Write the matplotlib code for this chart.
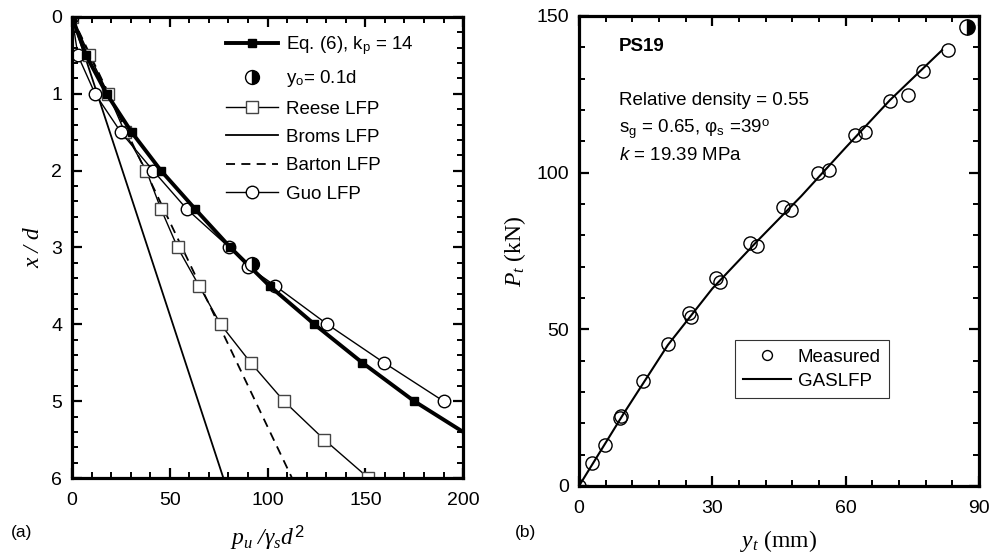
import matplotlib
matplotlib.use("Agg")
import matplotlib.pyplot as plt
from matplotlib.ticker import MultipleLocator

plt.rcParams['font.family'] = ['Liberation Sans', 'DejaVu Sans']
plt.rcParams['mathtext.fontset'] = 'custom'
plt.rcParams['mathtext.rm'] = 'Liberation Sans'
plt.rcParams['mathtext.it'] = 'Liberation Serif:italic'
plt.rcParams['mathtext.bf'] = 'Liberation Sans:bold'
plt.rcParams['mathtext.sf'] = 'Liberation Sans:italic'

# ---------------- data: panel (a) ----------------
eq6_depth = [0, 0.5, 1.0, 1.5, 2.0, 2.5, 3.0, 3.5, 4.0, 4.5, 5.0, 5.4]
eq6_p = [0, 7.2, 17.7, 30.5, 45.5, 63, 81, 101, 124, 148.5, 175, 200]

y0_depth = [3.22]
y0_p = [92]

reese_depth = [0, 0.5, 1.0, 1.5, 2.0, 2.5, 3.0, 3.5, 4.0, 4.5, 5.0, 5.5, 6.0]
reese_p = [0, 8.9, 18.5, 27, 38, 45.5, 54, 65, 76, 91.4, 108.4, 129, 151.6]

broms_depth = [0, 6.0]
broms_p = [0, 77.4]

barton_depth = [0, 6.0]
barton_p = [0, 112.5]

guo_depth = [0, 0.5, 1.0, 1.5, 2.0, 2.5, 3.0, 3.25, 3.5, 4.0, 4.5, 5.0]
guo_p = [0, 3, 11.8, 25, 41.5, 58.7, 80.5, 90, 104, 130.6, 159.6, 190]

# ---------------- data: panel (b) ----------------
meas_y = [0, 2.85, 5.8, 9.2, 9.5, 14.4, 20.0, 24.7, 25.3, 30.8, 31.8,
          38.5, 40.0, 45.9, 47.7, 53.7, 56.2, 62.2, 64.4, 70.0, 74.0, 77.5, 83.0]
meas_P = [0, 7.2, 13.1, 21.6, 22.4, 33.6, 45.3, 55.1, 53.8, 66.3, 65.1,
          77.6, 76.6, 88.9, 88.1, 99.8, 100.8, 112.0, 113.1, 122.9, 124.8, 132.4, 139.1]

gas_y = [0, 10, 20, 30, 40, 50, 60, 70, 81.7]
gas_P = [0, 23, 45, 63, 78, 92.5, 108, 123.2, 139.1]

yo_pt_y = [87.4]
yo_pt_P = [146.4]

# ---------------- figure ----------------
fig = plt.figure(figsize=(9.95, 5.59), dpi=100)
axa = fig.add_axes([0.0724, 0.1449, 0.3930, 0.8247])
axb = fig.add_axes([0.5819, 0.1306, 0.4020, 0.8408])

TICK_FS = 14

def style_axes(ax):
    for s in ax.spines.values():
        s.set_linewidth(2.3)
    ax.tick_params(which='both', direction='in', top=True, right=True,
                   labelsize=TICK_FS)
    ax.tick_params(axis='x', which='both', pad=10)
    ax.tick_params(axis='y', which='both', pad=7)
    ax.tick_params(which='major', length=7, width=1.6)
    ax.tick_params(which='minor', length=4, width=1.4)

# panel (a)
axa.plot(broms_p, broms_depth, color='black', lw=1.3, label='Broms LFP')
axa.plot(barton_p, barton_depth, color='black', lw=1.3, dashes=(5, 3.5),
         label='Barton LFP')
axa.plot(reese_p, reese_depth, color='black', lw=1.0, marker='s', ms=8,
         mfc='white', mec='#444444', mew=1.0, label='Reese LFP')
axa.plot(guo_p, guo_depth, color='black', lw=1.0, marker='o', ms=9,
         mfc='white', mec='black', mew=1.0, label='Guo LFP')
axa.plot(eq6_p, eq6_depth, color='black', lw=2.8, marker='s', ms=5.5,
         mfc='black', mec='black', markevery=list(range(len(eq6_p) - 1)),
         label=r'Eq. (6), k$_\mathrm{p}$ = 14')
axa.plot(y0_p, y0_depth, ls='none', marker='o', ms=10, fillstyle='right',
         mfc='black', markerfacecoloralt='white', mec='black', mew=1.0,
         label=r'y$_\mathrm{o}$= 0.1d')

axa.set_xlim(0, 200)
axa.set_ylim(6, 0)
axa.xaxis.set_major_locator(MultipleLocator(50))
axa.xaxis.set_minor_locator(MultipleLocator(10))
axa.yaxis.set_major_locator(MultipleLocator(1))
axa.yaxis.set_minor_locator(MultipleLocator(0.2))
style_axes(axa)

h, l = axa.get_legend_handles_labels()
order = [4, 5, 2, 0, 1, 3]
axa.legend([h[i] for i in order], [l[i] for i in order], loc='upper left',
           bbox_to_anchor=(0.395, 0.963), frameon=False, fontsize=13.5,
           handlelength=2.75, handletextpad=0.4, labelspacing=0.6,
           borderpad=0, borderaxespad=0)

axa.set_ylabel('x / d', fontfamily='Liberation Serif', style='italic',
               fontsize=17, labelpad=5)
axa.set_xlabel(r'$p_u$ /$\gamma_s d^2$', fontfamily='Liberation Serif',
               style='italic', fontsize=17, labelpad=10)

# panel (b)
axb.plot(meas_y, meas_P, ls='none', marker='o', ms=9.5, mfc='none',
         mec='black', mew=1.0, label='Measured')
axb.plot(gas_y, gas_P, color='black', lw=1.5, label='GASLFP')
axb.plot(yo_pt_y, yo_pt_P, ls='none', marker='o', ms=11, fillstyle='right',
         mfc='black', markerfacecoloralt='white', mec='black', mew=1.0,
         clip_on=False)
axb.set_xlim(0, 90)
axb.set_ylim(0, 150)
axb.xaxis.set_major_locator(MultipleLocator(30))
axb.xaxis.set_minor_locator(MultipleLocator(6))
axb.yaxis.set_major_locator(MultipleLocator(50))
axb.yaxis.set_minor_locator(MultipleLocator(10))
style_axes(axb)

leg = axb.legend(loc='lower left', bbox_to_anchor=(0.39, 0.187), fontsize=13.5,
                 frameon=True, fancybox=False, edgecolor='black',
                 handlelength=2.55, handletextpad=0.35, labelspacing=0.35,
                 borderpad=0.45, borderaxespad=0, markerscale=0.75)
leg.get_frame().set_linewidth(0.8)

axb.set_ylabel(r'$P_t$ (kN)', fontfamily='Liberation Serif', fontsize=17,
               labelpad=6)
axb.set_xlabel(r'$y_t$ (mm)', fontfamily='Liberation Serif', fontsize=17,
               labelpad=8)

axb.text(0.1, 0.935, 'PS19', transform=axb.transAxes, fontsize=13.5,
         fontweight='bold', va='center', ha='left')
axb.text(0.1, 0.821, 'Relative density = 0.55', transform=axb.transAxes,
         fontsize=13.5, va='center', ha='left')
axb.text(0.1, 0.758, r's$_\mathrm{g}$ = 0.65, φ$_\mathrm{s}$ =39$^\mathrm{o}$',
         transform=axb.transAxes, fontsize=13.5, va='center', ha='left')
axb.text(0.1, 0.704, r'$\mathsf{k}$ = 19.39 MPa', transform=axb.transAxes,
         fontsize=13.5, va='center', ha='left')

fig.text(22 / 995, 1 - 533 / 559, '(a)', fontsize=12.5, ha='center', va='center')
fig.text(526 / 995, 1 - 533 / 559, '(b)', fontsize=12.5, ha='center', va='center')

fig.savefig('out.png', dpi=100)
